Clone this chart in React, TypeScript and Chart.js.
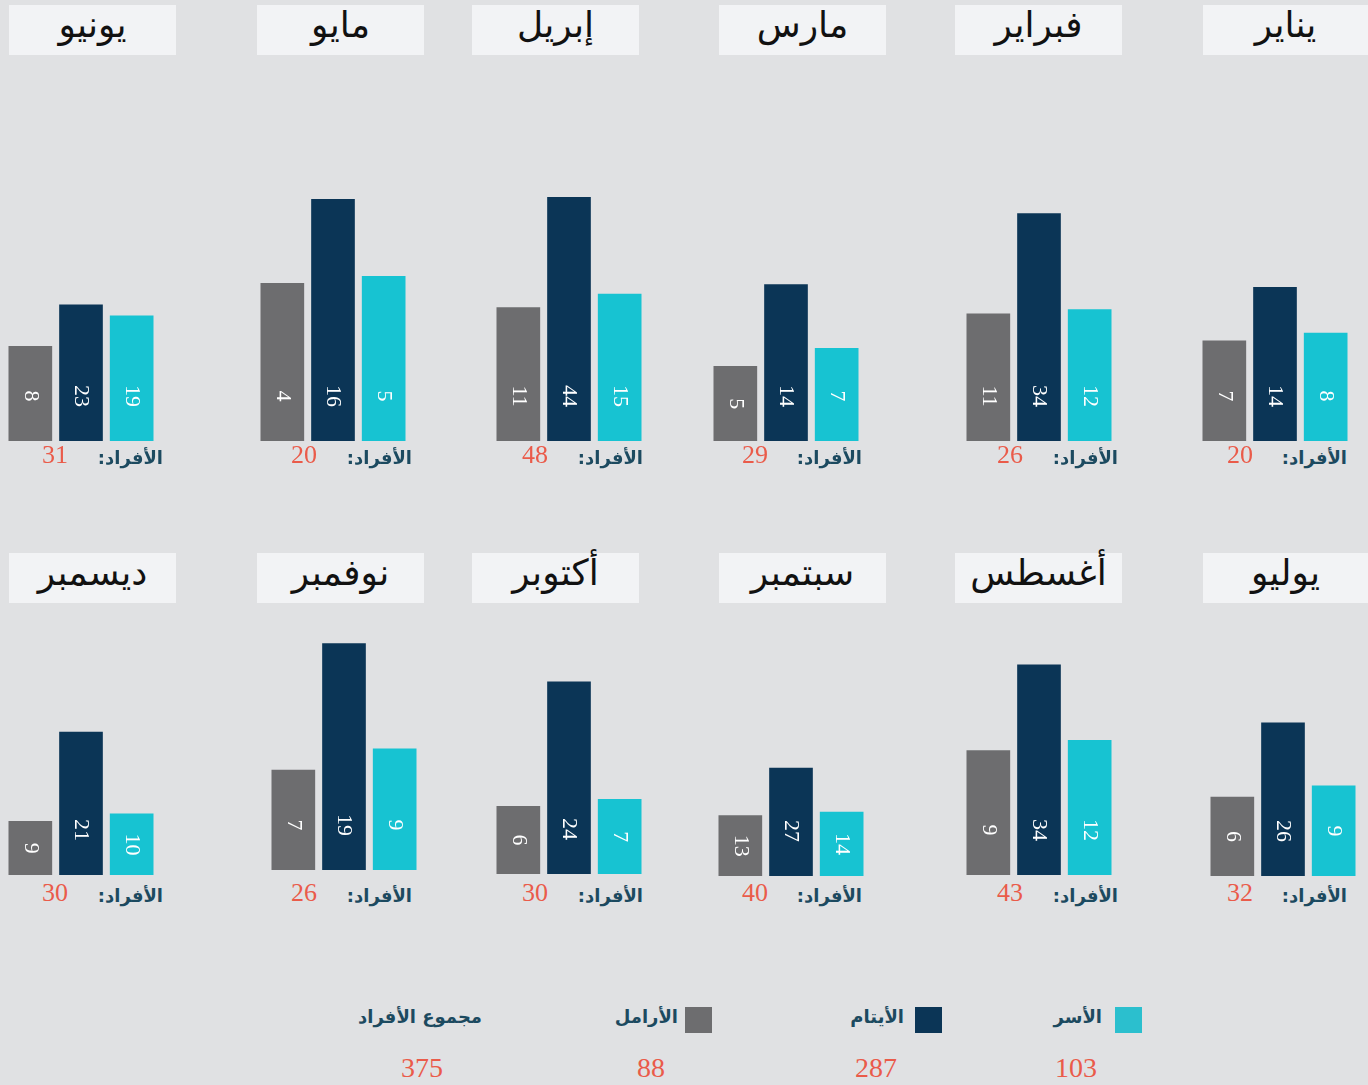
import React, { useEffect, useRef } from "react";
import { Chart, registerables } from "chart.js";

Chart.register(...registerables);

// ---------- DATA ----------
const months = ["يناير", "فبراير", "مارس", "إبريل", "مايو", "يونيو", "يوليو", "أغسطس", "سبتمبر", "أكتوبر", "نوفمبر", "ديسمبر"];
const seriesNames = ["الأرامل", "الأيتام", "الأسر"];
const widows = [7, 11, 5, 11, 4, 8, 6, 9, 13, 6, 7, 9];
const orphans = [14, 34, 14, 44, 16, 23, 26, 34, 27, 24, 19, 21];
const families = [8, 12, 7, 15, 5, 19, 9, 12, 14, 7, 9, 10];
const members = [20, 26, 29, 48, 20, 31, 32, 43, 40, 30, 26, 30];
const membersLabel = "الأفراد:";
const legendLabels = ["الأسر", "الأيتام", "الأرامل"];
const legendTotals = [103, 287, 88];
const totalLabel = "مجموع الأفراد";
const grandTotal = 375;
// per-panel value-axis range (bars start at the axis minimum)
const axisMin = [-6.1, -18.2, -3.2, -29.0, -18.5, -26.0, -15.3, -27.2, -4.9, -3.8, -2.5, 1.8];
const axisMax = [27.9, 41.5, 25.4, 48.9, 18.6, 67.5, 54.8, 48.5, 72.0, 33.8, 22.2, 36.7];

// ---------- LAYOUT / STYLE ----------
const BG = "#e0e1e3";
const BOX = "#f2f3f5";
const GRAY = "#6d6d6f";
const NAVY = "#0b3556";
const CYAN = "#17c3d2";
const LEGEND_CYAN = "#2bbfce";
const RED = "#ea5b4a";
const LABEL = "#1c4a60";
const AR_FONT = '"DejaVu Sans", sans-serif';
const NUM_FONT = '"Liberation Serif", "Times New Roman", serif';

const CH = 260; // chart area height
const CW = 152; // chart width
const titleLeft = [1203, 955, 719, 472, 257, 9];
const titleTop = [5, 553];
const groupLeft = [1203, 967, 714, 497, 261, 9, 1211, 967, 719, 497, 272, 9];
const barBottom = [441, 441, 441, 441, 441, 441, 876, 875, 876, 874, 870, 875];
const labelRight = [1347, 1118, 862, 643, 412, 163];
const numberCenter = [1240, 1010, 755, 535, 304, 55];
const labelY = [458, 896];
const numberY = [455, 893];

const rotatedValues = {
  id: "rotatedValues",
  afterDatasetsDraw(chart: any) {
    const ctx = chart.ctx;
    const meta = chart.getDatasetMeta(0);
    const data = chart.data.datasets[0].data;
    ctx.save();
    ctx.fillStyle = "#ffffff";
    ctx.font = `22px ${NUM_FONT}`;
    ctx.textAlign = "center";
    ctx.textBaseline = "middle";
    meta.data.forEach((bar: any, j: number) => {
      const p = bar.getProps(["x", "y", "base"], true);
      const cy = Math.max((p.y + p.base) / 2, p.base - 45);
      ctx.save();
      ctx.translate(p.x, cy);
      ctx.rotate(Math.PI / 2);
      ctx.fillText(String(data[j]), 0, 0);
      ctx.restore();
    });
    ctx.restore();
  },
};

function Panel({ i }: { i: number }) {
  const ref = useRef<HTMLCanvasElement>(null);
  useEffect(() => {
    const chart = new Chart(ref.current as HTMLCanvasElement, {
      type: "bar",
      data: {
        labels: seriesNames,
        datasets: [
          {
            data: [widows[i], orphans[i], families[i]],
            backgroundColor: [GRAY, NAVY, CYAN],
            borderWidth: 0,
            barThickness: 43,
            base: axisMin[i],
          },
        ],
      },
      options: {
        animation: false,
        responsive: false,
        maintainAspectRatio: false,
        events: [],
        layout: { padding: 0 },
        plugins: { legend: { display: false }, tooltip: { enabled: false } },
        scales: {
          x: { display: false },
          y: { display: false, min: axisMin[i], max: axisMax[i] },
        },
      },
      plugins: [rotatedValues],
    } as any);
    return () => chart.destroy();
  }, [i]);
  return (
    <canvas
      ref={ref}
      width={CW}
      height={CH}
      style={{ position: "absolute", left: groupLeft[i] - 4, top: barBottom[i] - CH, width: CW, height: CH, display: "block" }}
    />
  );
}

const arLabelStyle = (right: number, centerY: number, size: number): React.CSSProperties => ({
  position: "absolute",
  left: right - 240,
  width: 240,
  top: centerY - 14,
  height: 28,
  lineHeight: "28px",
  textAlign: "right",
  fontFamily: AR_FONT,
  fontWeight: "bold",
  fontSize: size,
  color: LABEL,
  whiteSpace: "nowrap",
});

const numStyle = (center: number, centerY: number, size: number): React.CSSProperties => ({
  position: "absolute",
  left: center - 50,
  width: 100,
  top: centerY - 16,
  height: 32,
  lineHeight: "32px",
  textAlign: "center",
  fontFamily: NUM_FONT,
  fontSize: size,
  color: RED,
});

export default function App() {
  return (
    <div style={{ position: "absolute", left: 0, top: 0, width: 1368, height: 1085, background: BG, overflow: "hidden" }}>
      {months.map((m, i) => {
        const col = i % 6;
        const row = Math.floor(i / 6);
        return (
          <React.Fragment key={i}>
            <div
              dir="rtl"
              style={{
                position: "absolute",
                left: titleLeft[col],
                top: titleTop[row],
                width: col === 0 ? 165 : 167,
                height: 50,
                background: BOX,
                textAlign: "center",
                fontFamily: AR_FONT,
                fontSize: 36,
                color: "#111",
                lineHeight: "40px",
                whiteSpace: "nowrap",
              }}
            >
              {m}
            </div>
            <Panel i={i} />
            <div dir="rtl" style={arLabelStyle(labelRight[col], labelY[row], 18)}>
              {membersLabel}
            </div>
            <div style={numStyle(numberCenter[col], numberY[row], 26)}>{members[i]}</div>
          </React.Fragment>
        );
      })}

      {/* legend */}
      {[
        { sq: LEGEND_CYAN, sqLeft: 1115, textRight: 1102, numC: 1076 },
        { sq: NAVY, sqLeft: 915, textRight: 904, numC: 876 },
        { sq: GRAY, sqLeft: 685, textRight: 678, numC: 651 },
      ].map((l, k) => (
        <React.Fragment key={k}>
          <div style={{ position: "absolute", left: l.sqLeft, top: 1007, width: 27, height: 26, background: l.sq }} />
          <div dir="rtl" style={arLabelStyle(l.textRight, 1017, 18)}>
            {legendLabels[k]}
          </div>
          <div style={numStyle(l.numC, 1068, 28)}>{legendTotals[k]}</div>
        </React.Fragment>
      ))}
      <div dir="rtl" style={arLabelStyle(482, 1017, 18)}>
        {totalLabel}
      </div>
      <div style={numStyle(422, 1068, 28)}>{grandTotal}</div>
    </div>
  );
}
